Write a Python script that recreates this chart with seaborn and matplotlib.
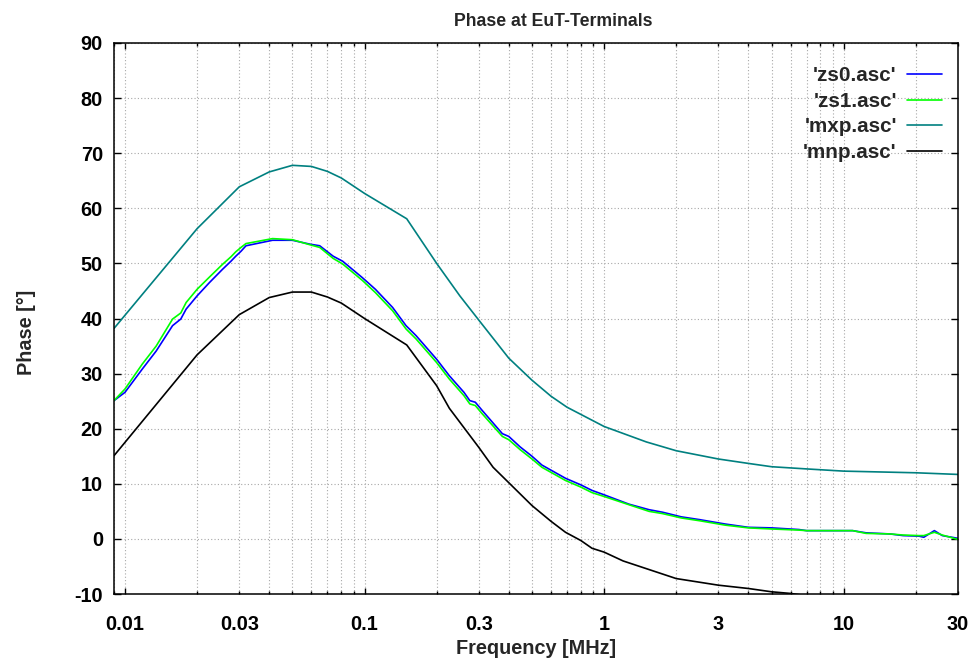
import numpy as np
import pandas as pd
import matplotlib
matplotlib.use("Agg")
import matplotlib.pyplot as plt
import matplotlib.ticker as mticker
import seaborn as sns

# --- data (frequency in MHz, phase in degrees) ---
freq_zs = [0.009, 0.01, 0.0118, 0.0135, 0.0158, 0.0171, 0.018, 0.02, 0.0225,
           0.0255, 0.0277, 0.029, 0.0305, 0.032, 0.0413, 0.05, 0.059, 0.065,
           0.074, 0.081, 0.098, 0.111, 0.131, 0.149, 0.164, 0.2, 0.226, 0.26,
           0.275, 0.29, 0.31, 0.376, 0.4, 0.446, 0.5, 0.55, 0.69, 0.8, 0.89,
           1.0, 1.27, 1.54, 1.75, 2.1, 2.5, 3.2, 4.0, 5.0, 6.5, 7.0, 10.9,
           12.4, 15.6, 17.7, 20.6, 21.6, 23.9, 25.8, 30.0]
zs0 = [25.1, 26.6, 30.8, 34.1, 38.7, 39.9, 41.7, 44.1, 46.5, 48.9, 50.4, 51.3,
       52.2, 53.2, 54.2, 54.2, 53.5, 53.2, 51.3, 50.4, 47.4, 45.3, 42.0, 38.7,
       36.9, 32.6, 29.6, 26.6, 25.1, 24.8, 23.3, 19.1, 18.6, 16.7, 15.0, 13.4,
       11.0, 9.8, 8.8, 8.0, 6.3, 5.3, 4.85, 4.0, 3.5, 2.7, 2.1, 2.0, 1.7, 1.5,
       1.5, 1.1, 0.9, 0.6, 0.5, 0.3, 1.5, 0.6, 0.1]
zs1 = [25.1, 27.2, 31.7, 35.0, 39.9, 41.0, 42.9, 45.3, 47.5, 49.8, 51.2, 52.1,
       52.9, 53.6, 54.5, 54.3, 53.4, 52.9, 50.9, 49.9, 46.9, 44.7, 41.4, 38.1,
       36.3, 32.0, 29.0, 26.0, 24.5, 24.2, 22.7, 18.6, 18.0, 16.2, 14.5, 13.0,
       10.6, 9.4, 8.4, 7.7, 6.2, 5.0, 4.6, 3.8, 3.3, 2.5, 2.0, 1.8, 1.6, 1.5,
       1.5, 1.0, 0.9, 0.7, 0.6, 0.6, 1.2, 0.7, -0.1]

freq_mxp = [0.009, 0.02, 0.03, 0.04, 0.05, 0.06, 0.07, 0.08, 0.1, 0.15, 0.2,
            0.25, 0.3, 0.4, 0.5, 0.6, 0.7, 1.0, 1.5, 2.0, 3.0, 4.0, 5.0, 7.0,
            10.0, 20.0, 30.0]
mxp = [38.2, 56.3, 63.9, 66.6, 67.8, 67.6, 66.7, 65.5, 62.7, 58.1, 50.0, 44.1,
       39.7, 32.8, 28.8, 25.9, 23.9, 20.4, 17.6, 16.0, 14.5, 13.7, 13.1, 12.7,
       12.3, 12.0, 11.7]

freq_mnp = [0.009, 0.02, 0.03, 0.04, 0.05, 0.06, 0.07, 0.08, 0.1, 0.15, 0.2,
            0.226, 0.3, 0.344, 0.4, 0.5, 0.6, 0.69, 0.8, 0.89, 1.0, 1.2, 2.0,
            3.0, 4.0, 5.0, 6.0, 7.0, 10.0]
mnp = [15.1, 33.4, 40.7, 43.8, 44.8, 44.8, 43.9, 42.8, 40.0, 35.2, 27.8,
       23.7, 16.6, 13.0, 10.2, 6.05, 3.2, 1.2, -0.3, -1.7, -2.4, -4.0, -7.2,
       -8.4, -9.0, -9.6, -9.9, -10.3, -11.0]

series_names = ["'zs0.asc'", "'zs1.asc'", "'mxp.asc'", "'mnp.asc'"]
series_colors = ["#0000ff", "#00ff00", "#008080", "#000000"]

frames = []
for name, fx, fy in zip(series_names,
                        [freq_zs, freq_zs, freq_mxp, freq_mnp],
                        [zs0, zs1, mxp, mnp]):
    frames.append(pd.DataFrame({"freq": fx, "phase": fy, "series": name}))
df = pd.concat(frames, ignore_index=True)

# --- style ---
sns.set_theme(style="white")
plt.rcParams["font.family"] = ["Liberation Sans", "DejaVu Sans"]
plt.rcParams["font.weight"] = "bold"
plt.rcParams["axes.unicode_minus"] = False
fs = 14.3
fs_leg = 14.9

fig = plt.figure(figsize=(9.71, 6.62), dpi=100)
ax = fig.add_axes([114 / 971, 68 / 662, 844 / 971, 551 / 662])

sns.lineplot(data=df, x="freq", y="phase", hue="series",
             hue_order=series_names, palette=series_colors,
             estimator=None, sort=False, linewidth=1.2, ax=ax)

ax.set_xscale("log")
ax.set_xlim(0.009, 30)
ax.set_ylim(-10, 90)
ax.set_yticks(np.arange(-10, 91, 10))

# decade ticks long, the rest short; 3x decades get labels as minor ticks
ax.xaxis.set_major_locator(mticker.FixedLocator([0.01, 0.1, 1, 10]))
ax.xaxis.set_major_formatter(mticker.FixedFormatter(["0.01", "0.1", "1", "10"]))
minor_pos = [m * 10.0 ** e for e in range(-3, 2) for m in range(2, 10)]
minor_pos = [p for p in minor_pos if 0.009 <= p <= 30.0001]
ax.xaxis.set_minor_locator(mticker.FixedLocator(minor_pos))
minor_lab = {0.03: "0.03", 0.3: "0.3", 3: "3", 30: "30"}


def minor_fmt(v, pos):
    for k, s in minor_lab.items():
        if abs(v - k) / k < 1e-6:
            return s
    return ""


ax.xaxis.set_minor_formatter(mticker.FuncFormatter(minor_fmt))

ax.tick_params(axis="x", which="major", direction="in", length=4.5, width=1,
               top=True, bottom=True, labelsize=fs, pad=15, colors="black")
ax.tick_params(axis="x", which="minor", direction="in", length=2.5, width=1,
               top=True, bottom=True, labelsize=fs, pad=15, colors="black")
ax.tick_params(axis="y", which="major", direction="in", length=5, width=1,
               left=True, right=True, labelsize=fs, pad=8, colors="black")
for lab in ax.get_xticklabels(which="both") + ax.get_yticklabels():
    lab.set_fontweight("bold")

ax.grid(True, which="major", axis="both", color="#a8a8a8",
        linestyle=(0, (1, 2)), linewidth=0.8)
ax.grid(True, which="minor", axis="x", color="#a8a8a8",
        linestyle=(0, (1, 2)), linewidth=0.8)
ax.set_axisbelow(True)
for sp in ax.spines.values():
    sp.set_color("black")
    sp.set_linewidth(1.1)

ax.set_xlabel("Frequency [MHz]", fontsize=fs, fontweight="bold")
ax.set_ylabel("Phase [°]", fontsize=fs, fontweight="bold")
ax.xaxis.set_label_coords(0.5, -0.082)
ax.yaxis.set_label_coords(-0.093, 0.474)

fig.text(553 / 971, 1 - 26 / 662, "Phase at EuT-Terminals", ha="center",
         va="baseline", fontsize=12.7, fontweight="bold")

handles, labels = ax.get_legend_handles_labels()
leg = ax.legend(handles, labels, loc="upper right",
                bbox_to_anchor=(0.981, 0.958), frameon=False,
                markerfirst=False, handlelength=1.68,
                handletextpad=0.5, labelspacing=0.32, borderpad=0,
                borderaxespad=0, prop={"weight": "bold", "size": fs_leg})

fig.savefig("out.png", dpi=100)
